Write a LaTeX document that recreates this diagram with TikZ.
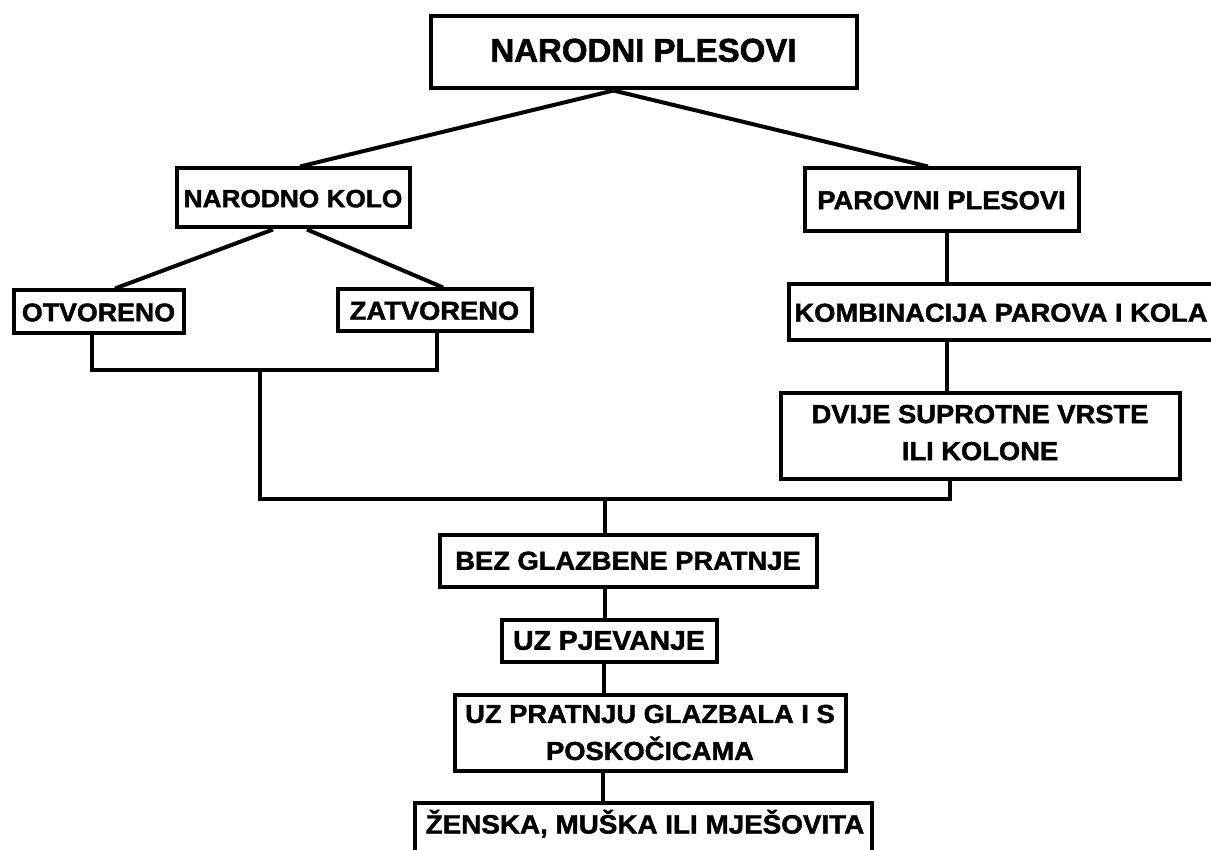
\documentclass[tikz,border=0pt]{standalone}
\usepackage{fontspec}
\setmainfont{Liberation Sans}[FakeStretch=1.05, FakeBold=1.6]
\newfontfamily\titlefont{Liberation Sans}[FakeBold=1.6]
\begin{document}
\begin{tikzpicture}[x=1pt,y=-1pt,
  box/.style={draw, line width=4pt, rectangle, inner sep=0pt, font=\fontsize{26}{37}\selectfont\bfseries, align=center},
  one/.style={text height=18.5pt, text depth=0pt},
  conn/.style={line width=4pt}]
\useasboundingbox[fill=white] (0,0) rectangle (1211,850);

% boxes
\node[box, one, minimum width=426pt, minimum height=72pt, font=\titlefont\fontsize{33}{38}\selectfont\bfseries] (top) at (643.5,52.5) {NARODNI PLESOVI};
\node[box, one, minimum width=233pt, minimum height=59pt, font=\fontsize{25}{37}\selectfont\bfseries] (nk) at (293,198) {NARODNO KOLO};
\node[box, one, minimum width=274pt, minimum height=63pt] (pp) at (941.5,200) {PAROVNI PLESOVI};
\node[box, one, minimum width=170pt, minimum height=43pt, font=\fontsize{25.5}{37}\selectfont\bfseries] (ot) at (98.5,312) {OTVORENO};
\node[box, one, minimum width=194pt, minimum height=42pt] (za) at (434.5,310.5) {ZATVORENO};
\node[box, one, minimum width=425pt, minimum height=56pt] (ko) at (1001,312.5) {KOMBINACIJA PAROVA I KOLA};
\node[box, minimum width=399pt, minimum height=85pt, text depth=7pt] (dv) at (980,436) {DVIJE SUPROTNE VRSTE\\ILI KOLONE};
\node[box, one, minimum width=377pt, minimum height=52pt] (bez) at (628,560.5) {BEZ GLAZBENE PRATNJE};
\node[box, one, minimum width=215pt, minimum height=42pt, font=\fontsize{27}{37}\selectfont\bfseries] (uzp) at (609,640.5) {UZ PJEVANJE};
\node[box, minimum width=391pt, minimum height=76pt] (uzpr) at (650,732.5) {UZ PRATNJU GLAZBALA I S\\POSKOČICAMA};
\node[box, minimum width=457pt, minimum height=70pt] (ze) at (643,838) {};
\node[font=\fontsize{26.5}{37}\selectfont\bfseries, inner sep=0pt, text height=19pt, text depth=0pt] (zetxt) at (645,824) {ŽENSKA, MUŠKA ILI MJEŠOVITA};

% junction coordinates
\coordinate (brk) at (260,370);
\coordinate (jl) at (260,499);
\coordinate (jm) at (605,499);
\coordinate (jr) at (950,499);

% connectors
\draw[conn] ([xshift=-30pt]top.south) -- ([xshift=7pt]nk.north);
\draw[conn] ([xshift=-30pt]top.south) -- ([xshift=-13.5pt]pp.north);
\draw[conn] ([xshift=-20pt]nk.south) -- ([xshift=16.5pt]ot.north);
\draw[conn] ([xshift=14pt]nk.south) -- ([xshift=8.5pt]za.north);
\draw[conn] ([xshift=-6.5pt]ot.south) |- (brk) -| ([xshift=2.5pt]za.south);
\draw[conn] (brk) -- (jl) -- (jr) -- (jr |- dv.south);
\draw[conn] ([xshift=5.5pt]pp.south) -- ([xshift=5.5pt]pp.south |- ko.north);
\draw[conn] ([xshift=-33pt]dv.north |- ko.south) -- ([xshift=-33pt]dv.north);
\draw[conn] (jm) -- (jm |- bez.north);
\draw[conn] (jm |- bez.south) -- (jm |- uzp.north);
\draw[conn] ([xshift=-1pt]jm |- uzp.south) -- ([xshift=-1pt]jm |- uzpr.north);
\draw[conn] ([xshift=-2pt]jm |- uzpr.south) -- ([xshift=-2pt]jm |- ze.north);
\end{tikzpicture}
\end{document}
